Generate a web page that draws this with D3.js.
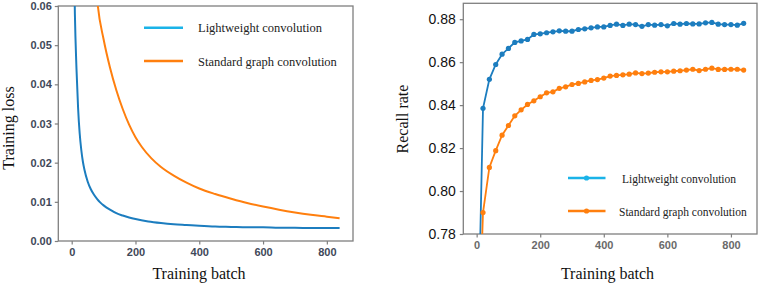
<!DOCTYPE html>
<html>
<head>
<meta charset="utf-8">
<script src="https://cdn.jsdelivr.net/npm/d3@7"></script>
<style>
    body { margin: 0; background: #fff; }
    svg { display: block; }
</style>
</head>
<body>
<div id="canvas"></div>
<script>
"use strict"

// DATA

// left panel: training loss
let lossBlueBatch = [0, 5, 10, 15, 20, 25, 30, 35, 40, 50, 60, 70, 80, 90, 100, 120, 140, 160, 180, 200,
    240, 280, 320, 360, 400, 450, 500, 550, 600, 650, 700, 750, 800, 840];
let lossBlue = [0.10, 0.085, 0.058, 0.044, 0.034, 0.0275, 0.0233, 0.0203, 0.0182, 0.0152, 0.0132, 0.0118,
    0.0107, 0.0098, 0.0091, 0.0080, 0.0071, 0.0065, 0.0060, 0.0056,
    0.0050, 0.0046, 0.0043, 0.0041, 0.0039, 0.0037, 0.0036, 0.0035, 0.0035, 0.0034, 0.0034, 0.0033, 0.0033, 0.0033];

let lossOrangeBatch = [70, 82, 100, 120, 140, 160, 180, 200, 220, 250, 280, 320, 360, 400, 450, 500,
    550, 600, 650, 700, 750, 800, 840];
let lossOrange = [0.072, 0.060, 0.0515, 0.0443, 0.0385, 0.0337, 0.0297, 0.0265, 0.0240, 0.0211, 0.0189,
    0.0167, 0.0149, 0.0134, 0.0120, 0.0108, 0.0097, 0.0088, 0.0080, 0.0073, 0.0067, 0.0062, 0.0058];

// right panel: recall rate, every 20 batches from 0 to 840
let recallBatch = d3.range(0, 841, 20);
let recallBlue = [0.70, 0.8385, 0.8520, 0.8589, 0.8637, 0.8664, 0.8692, 0.8699, 0.8706, 0.8729, 0.8732,
    0.8737, 0.8741, 0.8746, 0.8744, 0.8744, 0.8752, 0.8755, 0.8760, 0.8764, 0.8764,
    0.8771, 0.8777, 0.8771, 0.8777, 0.8775, 0.8767, 0.8775, 0.8772, 0.8775, 0.8769,
    0.8780, 0.8777, 0.8780, 0.8778, 0.8778, 0.8783, 0.8785, 0.8777, 0.8775, 0.8775, 0.8772, 0.8781];
let recallOrange = [0.70, 0.790, 0.811, 0.8188, 0.826, 0.8305, 0.835, 0.8378, 0.8403, 0.842, 0.8439,
    0.8457, 0.8462, 0.8478, 0.8485, 0.8496, 0.8501, 0.8508, 0.8515, 0.8519, 0.8526,
    0.8535, 0.8538, 0.8541, 0.8544, 0.8550, 0.8547, 0.8549, 0.8553, 0.8555, 0.8555,
    0.8558, 0.8560, 0.8563, 0.8567, 0.8561, 0.8567, 0.8572, 0.8566, 0.8566, 0.8567, 0.8567, 0.8563];

let xTicks = [0, 200, 400, 600, 800];
let lossTicks = [0, 0.01, 0.02, 0.03, 0.04, 0.05, 0.06];
let recallTicks = [0.78, 0.80, 0.82, 0.84, 0.86, 0.88];
let seriesNames = ["Lightweight convolution", "Standard graph convolution"];


// CONFIGURATION

let svgWidth = 761;
let svgHeight = 285;
let blue = "#1c7dbf";
let orange = "#ff7f0e";
let legendBlue = "#1ab3e8";
let frameColor = "#7f7f7f";
let serif = "'Liberation Serif', 'Times New Roman', serif";
let sans = "'Liberation Sans', Arial, sans-serif";


// CREATE SVG

let svg = d3.select("#canvas")
    .append("svg")
    .attr("width", svgWidth)
    .attr("height", svgHeight);


// SCALES

let xLeft = d3.scaleLinear().domain([-42, 882]).range([58.3, 353]);
let yLeft = d3.scaleLinear().domain([0, 0.06]).range([241, 6]);

let xRight = d3.scaleLinear().domain([-42, 882]).range([463.3, 757]);
let yRight = d3.scaleLinear().domain([0.78, 0.8874]).range([234, 3.3]);


// PANEL HELPER

function drawFrame(x, y, id) {
    let x0 = x.range()[0], x1 = x.range()[1];
    let y0 = y.range()[1], y1 = y.range()[0];

    svg.append("clipPath")
        .attr("id", id)
        .append("rect")
        .attr("x", x0)
        .attr("y", y0)
        .attr("width", x1 - x0)
        .attr("height", y1 - y0);

    svg.append("rect")
        .attr("x", x0)
        .attr("y", y0)
        .attr("width", x1 - x0)
        .attr("height", y1 - y0)
        .attr("fill", "none")
        .attr("stroke", frameColor)
        .attr("stroke-width", 1.3);
}

function styleAxis(g, color, size, weight) {
    g.select(".domain").remove();
    g.selectAll(".tick line")
        .attr("stroke", frameColor)
        .attr("stroke-width", 1.2);
    g.selectAll(".tick text")
        .attr("fill", color)
        .style("font-family", sans)
        .style("font-size", size)
        .style("font-weight", weight);
}


// LEFT PANEL: TRAINING LOSS

drawFrame(xLeft, yLeft, "clipLeft");

svg.append("g")
    .attr("transform", "translate(0," + yLeft.range()[0] + ")")
    .call(d3.axisBottom(xLeft).tickValues(xTicks).tickSize(3.5).tickPadding(3.5))
    .call(styleAxis, "#3f4859", "11px", "bold");

svg.append("g")
    .attr("transform", "translate(" + xLeft.range()[0] + ",0)")
    .call(d3.axisLeft(yLeft).tickValues(lossTicks).tickSize(3.5).tickPadding(3)
        .tickFormat(d3.format(".2f")))
    .call(styleAxis, "#3f4859", "11px", "bold");

let lossLine = d3.line()
    .x(function(d) { return xLeft(d[0]); })
    .y(function(d) { return yLeft(d[1]); })
    .curve(d3.curveMonotoneX);

svg.append("path")
    .datum(d3.zip(lossBlueBatch, lossBlue))
    .attr("clip-path", "url(#clipLeft)")
    .attr("fill", "none")
    .attr("stroke", blue)
    .attr("stroke-width", 2)
    .attr("d", lossLine);

svg.append("path")
    .datum(d3.zip(lossOrangeBatch, lossOrange))
    .attr("clip-path", "url(#clipLeft)")
    .attr("fill", "none")
    .attr("stroke", orange)
    .attr("stroke-width", 2)
    .attr("d", lossLine);

// legend
let leftLegend = [
    { name: seriesNames[0], color: legendBlue, y: 27.7 },
    { name: seriesNames[1], color: orange, y: 61 }
];

leftLegend.forEach(function(d) {
    svg.append("line")
        .attr("x1", 144).attr("x2", 183)
        .attr("y1", d.y).attr("y2", d.y)
        .attr("stroke", d.color)
        .attr("stroke-width", 2.4);
    svg.append("text")
        .attr("x", 198)
        .attr("y", d.y + 4.5)
        .style("font-family", serif)
        .style("font-size", "12.5px")
        .attr("fill", "#222")
        .text(d.name);
});

// axis labels
svg.append("text")
    .attr("transform", "rotate(-90)")
    .attr("x", -128)
    .attr("y", 13.5)
    .attr("text-anchor", "middle")
    .style("font-family", serif)
    .style("font-size", "16px")
    .attr("fill", "#111")
    .text("Training loss");

svg.append("text")
    .attr("x", 199)
    .attr("y", 279)
    .attr("text-anchor", "middle")
    .style("font-family", serif)
    .style("font-size", "16px")
    .attr("fill", "#111")
    .text("Training batch");


// RIGHT PANEL: RECALL RATE

drawFrame(xRight, yRight, "clipRight");

svg.append("g")
    .attr("transform", "translate(0," + yRight.range()[0] + ")")
    .call(d3.axisBottom(xRight).tickValues(xTicks).tickSize(3.5).tickPadding(4))
    .call(styleAxis, "#6a6a6a", "11px", "bold");

svg.append("g")
    .attr("transform", "translate(" + xRight.range()[0] + ",0)")
    .call(d3.axisLeft(yRight).tickValues(recallTicks).tickSize(3.5).tickPadding(4)
        .tickFormat(d3.format(".2f")))
    .call(styleAxis, "#111", "14px", "normal");

let recallLine = d3.line()
    .x(function(d) { return xRight(d[0]); })
    .y(function(d) { return yRight(d[1]); });

[[recallBlue, blue], [recallOrange, orange]].forEach(function(s) {
    let pts = d3.zip(recallBatch, s[0]);
    let g = svg.append("g").attr("clip-path", "url(#clipRight)");
    g.append("path")
        .datum(pts)
        .attr("fill", "none")
        .attr("stroke", s[1])
        .attr("stroke-width", 1.8)
        .attr("d", recallLine);
    g.selectAll("circle")
        .data(pts)
        .join("circle")
        .attr("cx", function(d) { return xRight(d[0]); })
        .attr("cy", function(d) { return yRight(d[1]); })
        .attr("r", 2.6)
        .attr("fill", s[1]);
});

// legend
let rightLegend = [
    { name: seriesNames[0], color: legendBlue, y: 178, tx: 622 },
    { name: seriesNames[1], color: orange, y: 211, tx: 619 }
];

rightLegend.forEach(function(d) {
    svg.append("line")
        .attr("x1", 568).attr("x2", 605.5)
        .attr("y1", d.y).attr("y2", d.y)
        .attr("stroke", d.color)
        .attr("stroke-width", 2.4);
    svg.append("circle")
        .attr("cx", 586.5)
        .attr("cy", d.y)
        .attr("r", 2.6)
        .attr("fill", d.color);
    svg.append("text")
        .attr("x", d.tx)
        .attr("y", d.y + 4.5)
        .style("font-family", serif)
        .style("font-size", "11.5px")
        .attr("fill", "#222")
        .text(d.name);
});

// axis labels
svg.append("text")
    .attr("transform", "rotate(-90)")
    .attr("x", -119)
    .attr("y", 407.5)
    .attr("text-anchor", "middle")
    .style("font-family", serif)
    .style("font-size", "16px")
    .attr("fill", "#111")
    .text("Recall rate");

svg.append("text")
    .attr("x", 607.5)
    .attr("y", 279)
    .attr("text-anchor", "middle")
    .style("font-family", serif)
    .style("font-size", "16px")
    .attr("fill", "#111")
    .text("Training batch");
</script>
</body>
</html>
